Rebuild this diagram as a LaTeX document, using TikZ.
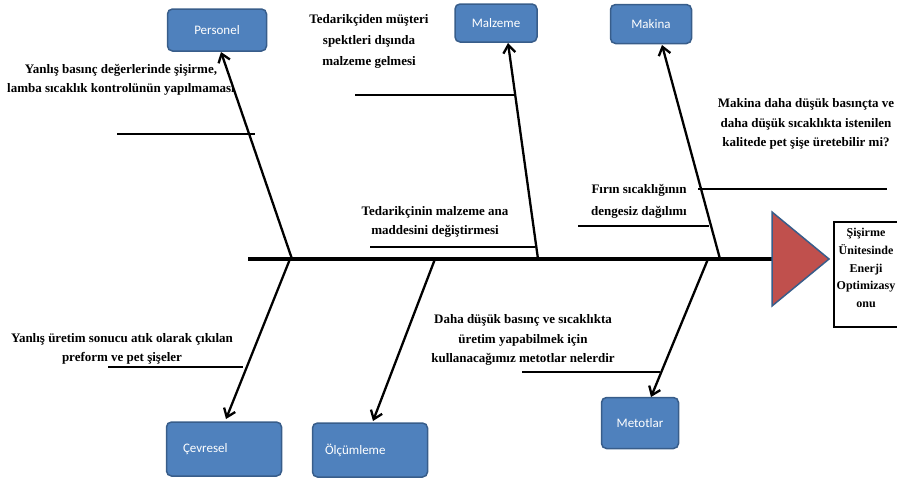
\documentclass[tikz,border=0pt]{standalone}
\usepackage{fontspec}
\setmainfont{Liberation Serif}
\newfontfamily\boxfont{Carlito}
\usetikzlibrary{arrows.meta}
\definecolor{boxblue}{HTML}{4F81BD}
\definecolor{boxedge}{HTML}{385D8A}
\definecolor{headred}{HTML}{C0504D}
\tikzset{
  catbox/.style={draw=boxedge, line width=1.5pt, fill=boxblue, rounded corners=5pt,
    text=white, font=\boxfont\fontsize{13}{15}\selectfont, inner sep=0pt},
  cause/.style={align=center, inner sep=0pt, font=\fontsize{13}{19.3}\selectfont\bfseries},
  bone/.style={line width=2.3pt, -{Straight Barb[length=8pt,width=12pt,line width=2.3pt]}},
  sub/.style={line width=2.6pt},
  spine/.style={line width=4.5pt}
}
\begin{document}
\begin{tikzpicture}[x=1pt,y=-1pt]
\useasboundingbox (0,0) rectangle (897,479);
\clip (0,0) rectangle (897,479);
% category boxes
\node[catbox, minimum width=99pt, minimum height=42pt] (personel) at (217,30) {Personel};
\node[catbox, minimum width=82pt, minimum height=38pt] (malzeme) at (496,23) {Malzeme};
\node[catbox, minimum width=81pt, minimum height=39pt] (makina) at (651,24) {Makina};
\node[catbox, minimum width=115pt, minimum height=54pt, text width=82pt, align=left] (cevresel) at (224,449) {Çevresel};
\node[catbox, minimum width=115pt, minimum height=54pt, text width=90pt, align=left] (olcum) at (370,450) {Ölçümleme};
\node[catbox, minimum width=77pt, minimum height=51pt] (metot) at (640,423) {Metotlar};
% spine and head
\coordinate (sL) at (248,259);
\coordinate (sR) at (775,259);
\draw[spine] (sL) -- (sR);
\coordinate (h1) at (772,212);
\coordinate (h2) at (829,259);
\coordinate (h3) at (772,306);
\path[draw=boxedge, line width=1.5pt, fill=headred] (h1) -- (h2) -- (h3) -- cycle;
\node[draw=black, line width=1.5pt, minimum width=72pt, minimum height=105pt, anchor=north west, inner sep=0pt] (effect) at (833,221) {};
\node[align=center, inner sep=0pt, font=\fontsize{12}{17.6}\selectfont\bfseries] (efftext) at (866,268)
  {Şişirme\\Ünitesinde\\Enerji\\Optimizasy\\onu};
% bone roots on spine
\coordinate (r1) at (292,259);
\coordinate (r2) at (538,259);
\coordinate (r3) at (720,259);
\coordinate (r4) at (290,259);
\coordinate (r5) at (435,259);
\coordinate (r6) at (708,259);
% arrow tips
\coordinate (t1) at (221,52);
\coordinate (t2) at (508,43);
\coordinate (t3) at (662,45);
\coordinate (t4) at (226,419);
\coordinate (t5) at (373,421);
\coordinate (t6) at (651,397);
\draw[bone] (r1) -- (t1);
\draw[bone] (r2) -- (t2);
\draw[bone] (r3) -- (t3);
\draw[bone] (r4) -- (t4);
\draw[bone] (r5) -- (t5);
\draw[bone] (r6) -- (t6);
% sub branches
\coordinate (a1) at (117,134); \coordinate (a2) at (255,134);
\coordinate (b1) at (355,95);  \coordinate (b2) at (516,95);
\coordinate (c1) at (370,247); \coordinate (c2) at (535,247);
\coordinate (d1) at (698,189); \coordinate (d2) at (887,189);
\coordinate (e1) at (578,226); \coordinate (e2) at (709,226);
\coordinate (f1) at (108,367); \coordinate (f2) at (243,367);
\coordinate (g1) at (522,372); \coordinate (g2) at (660,372);
\draw[sub] (a1) -- (a2);
\draw[sub] (b1) -- (b2);
\draw[sub] (c1) -- (c2);
\draw[sub] (d1) -- (d2);
\draw[sub] (e1) -- (e2);
\draw[sub] (f1) -- (f2);
\draw[sub] (g1) -- (g2);
% cause texts
\node[cause] (ta) at (121,80) {Yanlış basınç değerlerinde şişirme,\\lamba sıcaklık kontrolünün yapılmaması};
\node[cause, font=\fontsize{13}{21}\selectfont\bfseries] (tb) at (369,41) {Tedarikçiden müşteri\\spektleri dışında\\malzeme gelmesi};
\node[cause] (tc) at (435,222) {Tedarikçinin malzeme ana\\maddesini değiştirmesi};
\node[cause] (td) at (806,124) {Makina daha düşük basınçta ve\\daha düşük sıcaklıkta istenilen\\kalitede pet şişe üretebilir mi?};
\node[cause, font=\fontsize{13}{22}\selectfont\bfseries] (te) at (639,201) {Fırın sıcaklığının\\dengesiz dağılımı};
\node[cause] (tf) at (122,349) {Yanlış üretim sonucu atık olarak çıkılan\\preform ve pet şişeler};
\node[cause] (tg) at (523,340) {Daha düşük basınç ve sıcaklıkta\\üretim yapabilmek için\\kullanacağımız metotlar nelerdir};
\end{tikzpicture}
\end{document}
